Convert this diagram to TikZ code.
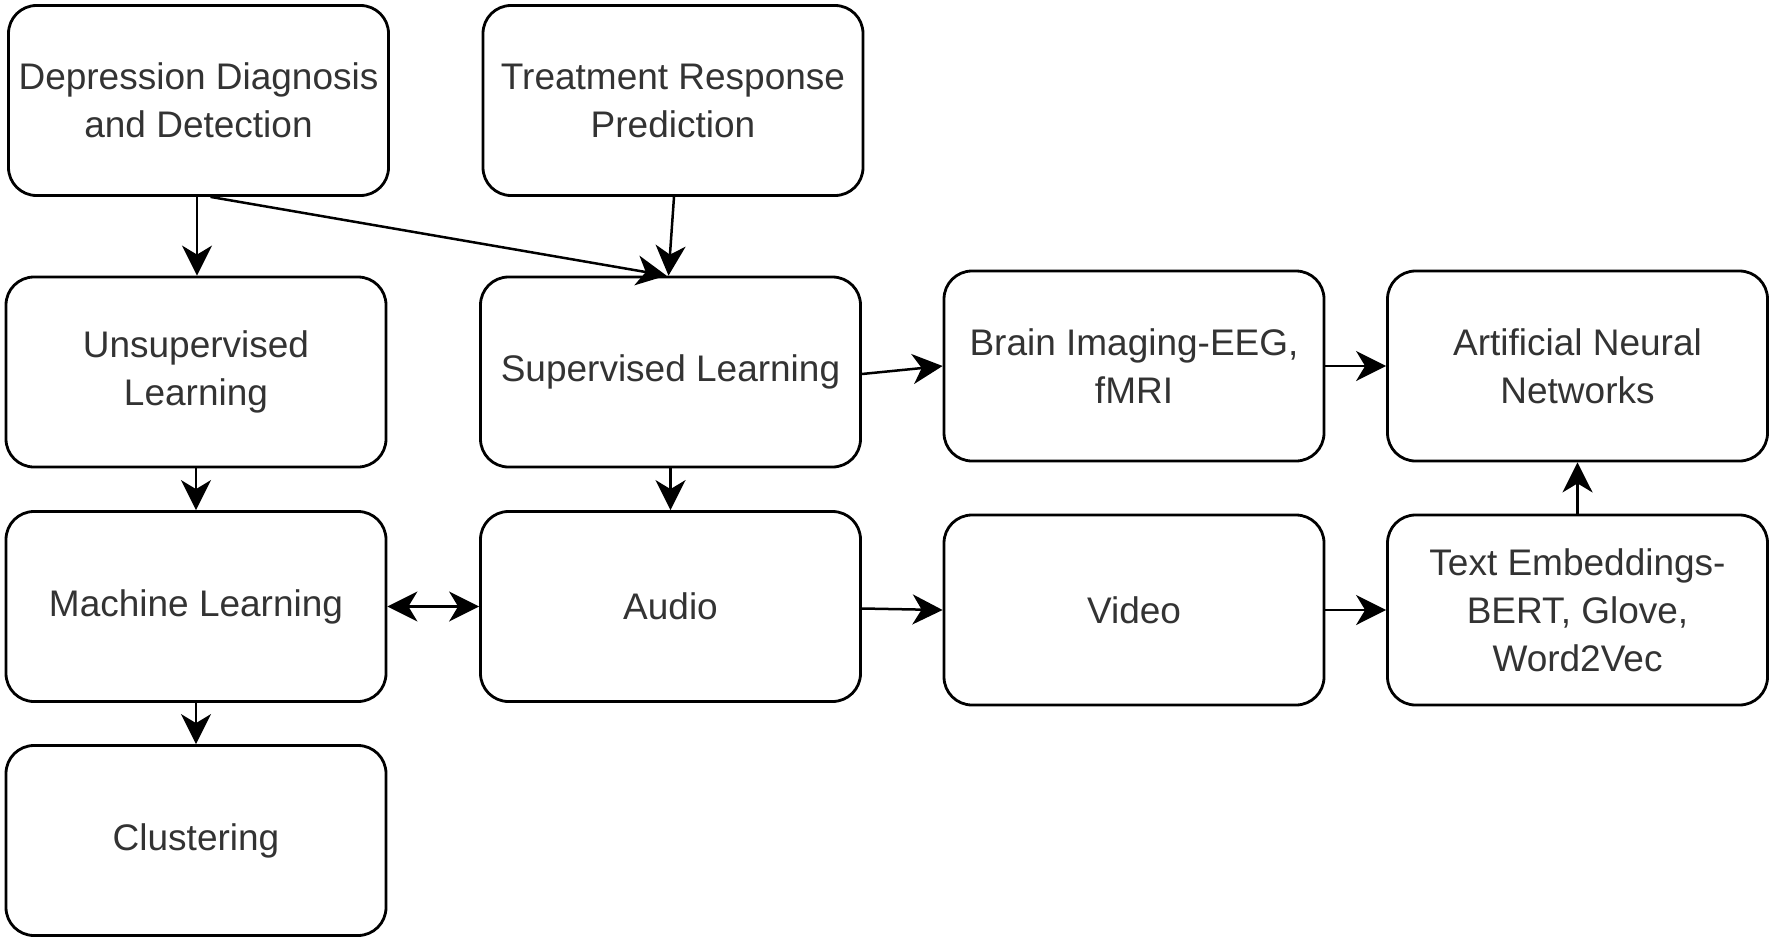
\documentclass[tikz,border=0pt]{standalone}
\usepackage{fontspec}
\setmainfont{Liberation Sans}
\usetikzlibrary{arrows.meta}
\begin{document}
\begin{tikzpicture}[x=1pt,y=-1pt,
  box/.style={draw=black, line width=2.8pt, rounded corners=28pt, minimum width=380pt, minimum height=190pt, align=center, inner sep=0pt, font=\fontsize{37}{48}\selectfont, text=black!80},
  conn/.style={draw=black, line width=2.5pt, -{Stealth[length=30pt,width=30pt,inset=9pt]}},
  biconn/.style={draw=black, line width=2.5pt, {Stealth[length=30pt,width=30pt,inset=9pt]}-{Stealth[length=30pt,width=30pt,inset=9pt]}}]
\useasboundingbox (0,0) rectangle (1771,942);
\node[box] (dep) at (198.5,100.5) {Depression Diagnosis\\and Detection};
\node[box] (treat) at (673,100.5) {Treatment Response\\Prediction};
\node[box] (unsup) at (196,372) {Unsupervised\\Learning};
\node[box] (sup) at (670.5,372) {Supervised Learning};
\node[box] (brain) at (1134,366) {Brain Imaging-EEG,\\fMRI};
\node[box] (ann) at (1577.5,366) {Artificial Neural\\Networks};
\node[box] (ml) at (196,606.5) {Machine Learning};
\node[box] (audio) at (670.5,606.5) {Audio};
\node[box] (video) at (1134,610) {Video};
\node[box] (text) at (1577.5,610) {Text Embeddings-\\BERT, Glove,\\Word2Vec};
\node[box] (clust) at (196,840.5) {Clustering};
\draw[conn] ([xshift=-1.5pt]dep.south) -- ([xshift=1pt]unsup.north);
\draw[conn] ([xshift=12pt]dep.south) -- ([xshift=-4pt]sup.north);
\draw[conn] ([xshift=1pt]treat.south) -- ([xshift=-2pt]sup.north);
\draw[conn] (unsup.south) -- (ml.north);
\draw[conn] (sup.south) -- (audio.north);
\draw[conn] (ml.south) -- (clust.north);
\draw[biconn] (ml.east) -- (audio.west);
\draw[conn] ([yshift=-2pt]sup.east) -- (brain.west);
\draw[conn] (brain.east) -- (ann.west);
\draw[conn] ([yshift=-2pt]audio.east) -- (video.west);
\draw[conn] (video.east) -- (text.west);
\draw[conn] (text.north) -- (ann.south);
\end{tikzpicture}
\end{document}
